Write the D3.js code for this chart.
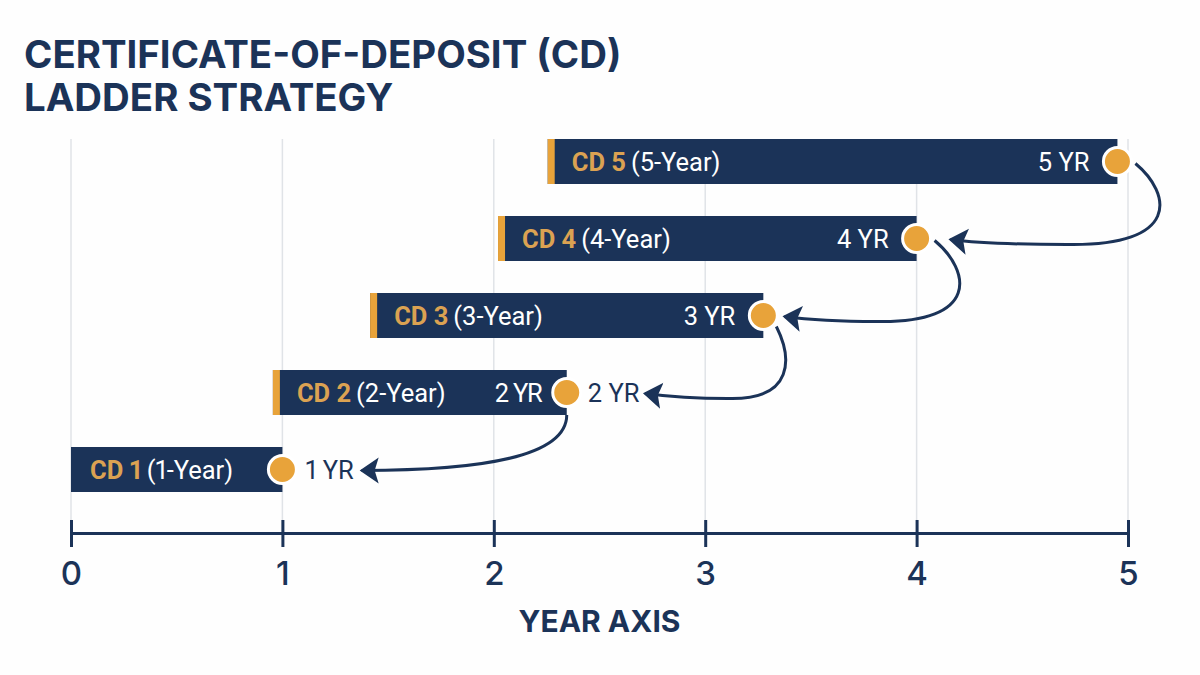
<!DOCTYPE html>
<html>
<head>
<meta charset="utf-8">
<script src="https://cdn.jsdelivr.net/npm/d3@7"></script>
<style>
  html, body { margin: 0; background: #fefefe; }
  svg { display: block; font-variant-numeric: proportional-nums; }
</style>
</head>
<body>
<svg id="chart" width="1200" height="675" font-family="Roboto, sans-serif"></svg>
<script>
// values, bottom rung first
const cdNames   = ['CD 1', 'CD 2', 'CD 3', 'CD 4', 'CD 5'];
const cdTerms   = ['(1-Year)', '(2-Year)', '(3-Year)', '(4-Year)', '(5-Year)'];
const yrLabels  = ['1 YR', '2 YR', '3 YR', '4 YR', '5 YR'];
const barStart  = [0, 0.955, 1.415, 2.02, 2.255];
const barEnd    = [1, 2.345, 3.275, 4, 4.95];
const dotYear   = [1, 2.345, 3.275, 4, 4.95];
const arrowTip  = [1.375, 2.715, 3.375, 4.16];   // arrow from rung i+1 lands here on rung i
const outerIdx  = [0, 1];                        // rungs with a label right of the dot
const yearTicks = [0, 1, 2, 3, 4, 5];
const titleLines = ['CERTIFICATE-OF-DEPOSIT (CD)', 'LADDER STRATEGY'];

const NAVY = '#1b3358', GOLD = '#e8a33a', GRID = '#e0e3e7';

const svg = d3.select('#chart');
const x = d3.scaleLinear().domain([0, 5]).range([71, 1128]);
const y = d3.scaleBand().domain([4, 3, 2, 1, 0]).range([139, 492]).paddingInner(32 / 77).paddingOuter(0);
const axisY = 533;
const mid = i => y(i) + y.bandwidth() / 2;

svg.append('defs').append('marker')
  .attr('id', 'head').attr('markerUnits', 'userSpaceOnUse')
  .attr('markerWidth', 24).attr('markerHeight', 28)
  .attr('refX', 17).attr('refY', 14).attr('orient', 'auto')
  .append('path').attr('d', 'M19,14 L0,1 L4,14 L0,27 Z').attr('fill', NAVY);

// title
svg.append('g').selectAll('text').data(titleLines).join('text')
  .attr('x', 24).attr('y', (d, i) => 68 + i * 43)
  .attr('font-family', 'Inter, sans-serif').attr('font-size', 38.4).attr('font-weight', 700)
  .attr('fill', NAVY).text(d => d);

// grid
svg.append('g').selectAll('line').data(yearTicks).join('line')
  .attr('x1', d => x(d)).attr('x2', d => x(d))
  .attr('y1', 139).attr('y2', axisY)
  .attr('stroke', GRID).attr('stroke-width', 1.5);

// bars
const rows = d3.range(cdNames.length);
svg.append('g').selectAll('rect').data(rows).join('rect')
  .attr('x', i => x(barStart[i])).attr('y', i => y(i))
  .attr('width', i => x(barEnd[i]) - x(barStart[i])).attr('height', y.bandwidth())
  .attr('fill', NAVY);

// gold edge on every bar but the first
svg.append('g').selectAll('rect').data(rows.slice(1)).join('rect')
  .attr('x', i => x(barStart[i])).attr('y', i => y(i))
  .attr('width', 7).attr('height', y.bandwidth())
  .attr('fill', GOLD);

// bar labels
const lab = svg.append('g').selectAll('text').data(rows).join('text')
  .attr('x', i => x(barStart[i]) + (i === 0 ? 19 : 24)).attr('y', i => mid(i) + 9)
  .attr('font-size', 25.5);
lab.append('tspan').attr('fill', '#dba252').attr('font-weight', 700).text(i => cdNames[i]);
lab.append('tspan').attr('fill', '#ffffff').attr('dx', 5).text(i => cdTerms[i]);

// year labels inside the bars, CD 2 sits closer to its dot
svg.append('g').selectAll('text').data(rows.slice(1)).join('text')
  .attr('x', i => x(dotYear[i]) - (i === 1 ? 24 : 28)).attr('y', i => mid(i) + 9)
  .attr('text-anchor', 'end').attr('font-size', 25.5).attr('fill', '#ffffff')
  .attr('textLength', i => i === 1 ? 48 : null)
  .text(i => yrLabels[i]);

// year labels right of the dots
svg.append('g').selectAll('text').data(outerIdx).join('text')
  .attr('x', i => x(dotYear[i]) + (i === 0 ? 23 : 21)).attr('y', i => mid(i) + 9)
  .attr('font-size', 25.5).attr('fill', NAVY)
  .text(i => yrLabels[i]);

// roll-over arrows, each from a dot down to the rung below
function arrowPath(i) {
  const sx = x(dotYear[i + 1]), sy = mid(i + 1);
  const tx = x(arrowTip[i]), ty = mid(i);
  const w = sx - tx;
  if (i === 0) {
    const y0 = sy + y.bandwidth() / 2;
    return `M${sx},${y0} C${sx},${y0 + 42} ${sx - w * 0.42},${ty + 1} ${tx},${ty + 1}`;
  }
  const tight = i === 1;
  const k = tight ? 0.42 : 1;
  const x0 = sx + (tight ? 13 : 18), y0 = sy + (tight ? 11 : 2);
  return `M${x0},${y0} C${x0 + 36 * k},${y0 + 30} ${x0 + 46 * k},${ty + 8} ${sx - w * 0.3},${ty + 6} C${sx - w * 0.5},${ty + 6} ${tx + 30},${ty + 5} ${tx},${ty + 1}`;
}
svg.append('g').selectAll('path').data(d3.range(arrowTip.length)).join('path')
  .attr('d', arrowPath).attr('fill', 'none')
  .attr('stroke', NAVY).attr('stroke-width', 3)
  .attr('marker-end', 'url(#head)');

// maturity dots
svg.append('g').selectAll('circle').data(rows).join('circle')
  .attr('cx', i => x(dotYear[i])).attr('cy', mid)
  .attr('r', 14).attr('fill', GOLD)
  .attr('stroke', '#ffffff').attr('stroke-width', 3);

// axis
const axis = svg.append('g').attr('transform', `translate(0,${axisY})`)
  .call(d3.axisBottom(x).tickValues(yearTicks).tickFormat(d3.format('d')).tickSize(14).tickSizeOuter(0).tickPadding(14.6));
axis.select('.domain').attr('stroke', NAVY).attr('stroke-width', 3);
axis.selectAll('.tick line').attr('y1', -13).attr('y2', 14).attr('stroke', NAVY).attr('stroke-width', 3);
axis.selectAll('.tick text')
  .attr('font-family', 'Inter, sans-serif').attr('font-size', 33).attr('font-weight', 500).attr('fill', NAVY);

svg.append('text')
  .attr('x', x(2.5)).attr('y', 632).attr('text-anchor', 'middle')
  .attr('font-family', 'Inter, sans-serif').attr('font-size', 30).attr('font-weight', 700)
  .attr('fill', NAVY).text('YEAR AXIS');
</script>
</body>
</html>
